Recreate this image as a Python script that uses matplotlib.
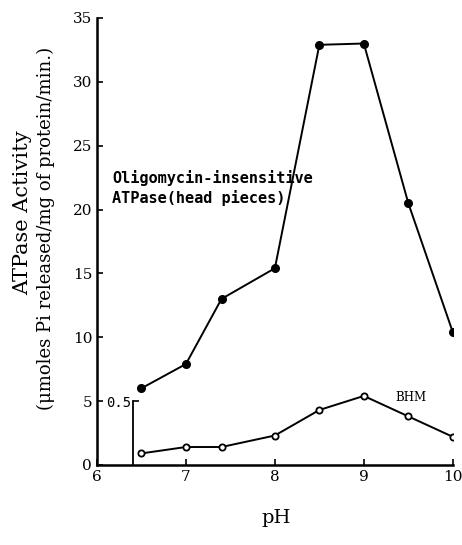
import numpy as np
import matplotlib.pyplot as plt

# pH values
ph = [6.5, 7.0, 7.4, 8.0, 8.5, 9.0, 9.5, 10.0]

# Oligomycin-insensitive ATPase (head pieces), main scale
head_pieces = [6.0, 7.9, 13.0, 15.4, 32.9, 33.0, 20.5, 10.4]

# BHM, on the inner 0-0.5 scale
bhm = [0.09, 0.14, 0.14, 0.23, 0.43, 0.54, 0.38, 0.22]

x_ticks = [6, 7, 8, 9, 10]
y_ticks = [0, 5, 10, 15, 20, 25, 30, 35]

fig = plt.figure(figsize=(4.62, 5.45), dpi=100)
ax = fig.add_axes([0.21, 0.147, 0.77, 0.82])

ax.plot(ph, head_pieces, color='black', lw=1.4, marker='o', ms=5.5,
        mfc='black', mec='black')

ax.set_xlim(6, 10)
ax.set_ylim(0, 35)
ax.set_xticks(x_ticks)
ax.set_yticks(y_ticks)
ax.spines['top'].set_visible(False)
ax.spines['right'].set_visible(False)
ax.spines['left'].set_linewidth(1.8)
ax.spines['bottom'].set_linewidth(1.8)
ax.tick_params(direction='in', length=4, width=1.2, labelsize=11)
for lab in ax.get_xticklabels() + ax.get_yticklabels():
    lab.set_family('DejaVu Serif')

# inner scale for BHM (0 - 0.5)
ax2 = ax.twinx()
ax2.set_ylim(0, 3.5)
ax2.plot(ph, bhm, color='black', lw=1.4, marker='o', ms=4.5,
         mfc='white', mec='black', mew=1.3)
ax2.yaxis.tick_left()
ax2.spines['left'].set_position(('data', 6.4))
ax2.spines['left'].set_bounds(0, 0.5)
ax2.spines['left'].set_linewidth(1.3)
for s in ['top', 'right', 'bottom']:
    ax2.spines[s].set_visible(False)
ax2.set_yticks([0.5])
ax2.set_yticklabels(['0.5'])
ax2.tick_params(axis='y', direction='in', length=4, width=1.2, labelsize=10, pad=1)
for lab in ax2.get_yticklabels():
    lab.set_family('DejaVu Sans Mono')

ax.text(6.17, 22.5, 'Oligomycin-insensitive', family='DejaVu Sans Mono',
        fontsize=11, fontweight='bold', va='center', ha='left')
ax.text(6.17, 20.9, 'ATPase(head pieces)', family='DejaVu Sans Mono',
        fontsize=11, fontweight='bold', va='center', ha='left')
ax.text(9.35, 5.3, 'BHM', family='DejaVu Serif', fontsize=8.5,
        va='center', ha='left')

fig.text(0.597, 0.05, 'pH', family='DejaVu Serif', fontsize=14,
         ha='center', va='center')
fig.text(0.048, 0.61, 'ATPase Activity', family='DejaVu Serif', fontsize=15,
         rotation=90, ha='center', va='center')
fig.text(0.100, 0.58, '(\u03bcmoles Pi released/mg of protein/min.)',
         family='DejaVu Serif', fontsize=13, rotation=90,
         ha='center', va='center')

fig.savefig('out.png', dpi=100)
